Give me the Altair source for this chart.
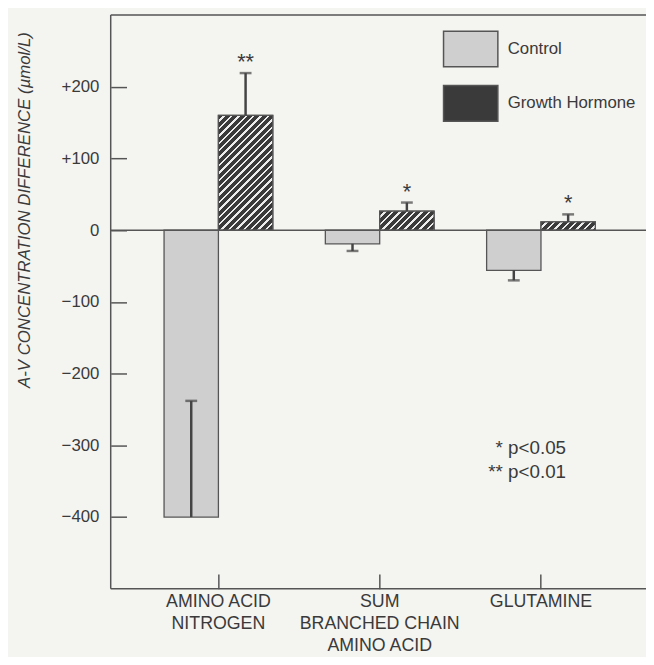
import altair as alt

# ---- data ----
CATEGORIES = ["AMINO ACID|NITROGEN", "SUM|BRANCHED CHAIN|AMINO ACID", "GLUTAMINE"]
SERIES = ["Control", "Growth Hormone"]
CONTROL_MEAN = [-400, -19, -56]
CONTROL_ERR_END = [-238, -29, -70]
GH_MEAN = [160, 26.5, 11.5]
GH_ERR_END = [219, 38.5, 22]
GH_SIG = ["**", "*", "*"]
Y_TICKS = [-400, -300, -200, -100, 0, 100, 200]
Y_DOMAIN = [-500, 300]
Y_TITLE = "A-V CONCENTRATION DIFFERENCE (\u00b5mol/L)"
NOTE = "* p<0.05\n** p<0.01"

# ---- layout / style ----
W, H = 534, 581
PAD = {"left": 104, "top": 3, "right": 8, "bottom": 65}
PI, PO, ALIGN = 0.326, 0.298, 0.555
FONT = "Liberation Sans"
INK = "#3a3a3a"
LINE = "#555555"
BG = "#f4f4f1"
CTRL_FILL = "#cfcfcf"
GH_DARK = "#3a3a3a"
GH_LIGHT = "#ececec"

step = W / (len(CATEGORIES) - PI + 2 * PO)
bar_w = step * (1 - PI) / 2
px_per_unit = H / (Y_DOMAIN[1] - Y_DOMAIN[0])


def hatch(w, h, period=7.5, white=0.32):
    """Diagonal '/' stripes via a hard-stop linear gradient in bbox units."""
    total = w + h
    k = total * w / (w * w + h * h)
    stops = []
    s = 0.0
    while s < total:
        d_end = s + period * (1 - white)
        l_end = s + period
        stops.append({"offset": round(s / total, 5), "color": GH_DARK})
        stops.append({"offset": round(min(d_end, total) / total, 5), "color": GH_DARK})
        if d_end < total:
            stops.append({"offset": round(d_end / total, 5), "color": GH_LIGHT})
            stops.append({"offset": round(min(l_end, total) / total, 5), "color": GH_LIGHT})
        s = l_end
    return {"gradient": "linear", "x1": 0, "y1": 0, "x2": round(k, 5),
            "y2": round(k * h / w, 5), "stops": stops}


rows = []
for i, c in enumerate(CATEGORIES):
    rows.append({"cat": c, "series": SERIES[0], "mean": CONTROL_MEAN[i],
                 "err": CONTROL_ERR_END[i], "sig": ""})
    rows.append({"cat": c, "series": SERIES[1], "mean": GH_MEAN[i],
                 "err": GH_ERR_END[i], "sig": GH_SIG[i],
                 "grad": hatch(bar_w, GH_MEAN[i] * px_per_unit)})

data = alt.Data(values=rows)
one = alt.Data(values=[{"k": 1}])

x_enc = alt.X(
    "cat:N", sort=CATEGORIES,
    scale=alt.Scale(domain=CATEGORIES, paddingInner=PI, paddingOuter=PO, align=ALIGN),
    axis=alt.Axis(
        title=None, orient="bottom", offset=-15, tickSize=15, domain=False,
        tickColor=LINE, tickWidth=1.5, labelAngle=0,
        labelExpr="split(datum.label, '|')", labelLineHeight=22.5,
        labelFont=FONT, labelFontSize=18, labelColor=INK, labelPadding=4,
        labelLimit=400, labelBaseline="top",
    ),
)
xo_enc = alt.XOffset("series:N", scale=alt.Scale(domain=SERIES, paddingInner=0, paddingOuter=0))
y_scale = alt.Scale(domain=Y_DOMAIN, nice=False, zero=False)

bars = alt.Chart(data).mark_bar(stroke=LINE, strokeWidth=1.3).encode(
    x=x_enc, xOffset=xo_enc,
    y=alt.Y("mean:Q", scale=y_scale, axis=alt.Axis(
        values=Y_TICKS, orient="left", offset=-16, tickSize=16, domain=False, grid=False,
        tickColor=LINE, tickWidth=1.5,
        labelExpr="datum.value > 0 ? '+' + datum.label : datum.label",
        labelFont=FONT, labelFontSize=17, labelColor=INK, labelPadding=12,
        title=Y_TITLE, titleFont=FONT, titleFontSize=17,
        titleFontStyle="italic", titleFontWeight="normal", titleColor=INK,
        titleX=-103, titleY=197, titleAngle=270, titleAlign="center", titleBaseline="middle",
    )),
    color=alt.Color("series:N", scale=alt.Scale(domain=SERIES, range=[CTRL_FILL, GH_DARK]),
                    legend=alt.Legend(
                        title=None, orient="none", legendX=336, legendY=6,
                        symbolType="M-1,-0.655H1V0.655H-1Z", symbolSize=3025,
                        symbolStrokeColor=LINE, symbolStrokeWidth=1.5, symbolOpacity=1,
                        labelFont=FONT, labelFontSize=17, labelColor=INK, labelOffset=9,
                        rowPadding=5, padding=0)),
)

hatch_layer = alt.Chart(data).transform_filter(
    alt.datum.series == SERIES[1]
).mark_bar(stroke=LINE, strokeWidth=1.3).encode(
    x=x_enc, xOffset=xo_enc, y="mean:Q",
    fill=alt.Fill("grad:N", scale=None, legend=None),
)

err_rule = alt.Chart(data).mark_rule(color="#444444", strokeWidth=2.5).encode(
    x=x_enc, xOffset=xo_enc, y="mean:Q", y2="err:Q",
)
err_cap = alt.Chart(data).mark_tick(color="#444444", thickness=2.5, size=12).encode(
    x=x_enc, xOffset=xo_enc, y="err:Q",
)
stars = alt.Chart(data).transform_filter(
    alt.datum.series == SERIES[1]
).mark_text(font=FONT, fontSize=22, color=INK, baseline="alphabetic", dy=-4).encode(
    x=x_enc, xOffset=xo_enc, y="err:Q", text="sig:N",
)

zero_line = alt.Chart(one).mark_rule(color=LINE, strokeWidth=1.5).encode(
    y=alt.datum(0), x=alt.value(0), x2=alt.value(W + PAD["right"]),
)
frame_top = alt.Chart(one).mark_rule(color=LINE, strokeWidth=1.5).encode(
    y=alt.value(0), x=alt.value(0), x2=alt.value(W + PAD["right"]),
)
frame_bottom = alt.Chart(one).mark_rule(color=LINE, strokeWidth=1.5).encode(
    y=alt.value(H), x=alt.value(0), x2=alt.value(W + PAD["right"]),
)
frame_left = alt.Chart(one).mark_rule(color=LINE, strokeWidth=1.5).encode(
    x=alt.value(0), y=alt.value(0), y2=alt.value(H),
)
note = alt.Chart(one).mark_text(
    text=NOTE, lineBreak="\n", font=FONT, fontSize=19, lineHeight=24,
    color=INK, align="right", baseline="middle",
).encode(x=alt.value(461), y=alt.value(439))

chart = alt.layer(
    bars, hatch_layer, err_rule, err_cap, zero_line, frame_top, frame_bottom,
    frame_left, stars, note,
).properties(
    width=W, height=H, padding=PAD, background=BG,
    autosize=alt.AutoSizeParams(type="none"),
).configure_view(stroke=None)

chart.save("out.html", embed_options={"renderer": "svg", "actions": False})
